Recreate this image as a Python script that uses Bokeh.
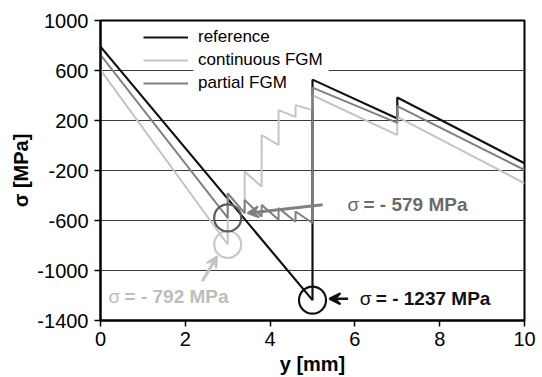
from bokeh.plotting import figure
from bokeh.models import Range1d, FixedTicker, Legend, LegendItem, Arrow, VeeHead, BoxAnnotation
from bokeh.core.properties import value
from bokeh.embed import file_html
from bokeh.resources import INLINE

# ---- data ----
ref_x = [0, 5, 5, 7, 7, 10]
ref_y = [790, -1237, 527, 216, 384, -142]

cont_x = [0, 3, 3, 3.4, 3.4, 3.8, 3.8, 4.2, 4.2, 4.6, 4.6, 5, 5, 7, 7, 10]
cont_y = [605, -792, -390, -541, -209, -328, 83, 4, 283, 229, 323, 283, 402, 83, 229, -302]

part_x = [0, 3, 3, 3.4, 3.4, 3.8, 3.8, 4.2, 4.2, 4.6, 4.6, 5, 5, 7, 7, 10]
part_y = [725, -579, -381, -541, -435, -568, -475, -594, -501, -610, -528, -620, 463, 181, 315, -196]

series_names = ["reference", "continuous FGM", "partial FGM"]
x_ticks = [0, 2, 4, 6, 8, 10]
y_ticks = [-1400, -1000, -600, -200, 200, 600, 1000]

# marked extreme values
peak_x = [5, 3, 3]
peak_y = [-1237, -792, -579]
peak_labels = ["= - 1237 MPa", "= - 792 MPa", "= - 579 MPa"]

FONT_NAME = "Liberation Sans"
FONT = value(FONT_NAME)
C_REF, C_CONT, C_PART = "#111111", "#c4c4c4", "#808080"
C_TXT = ["#111111", "#bdbdbd", "#6a6a6a"]
C_CIRC = ["#111111", "#c8c8c8", "#5a5a5a"]

p = figure(width=542, height=377, x_range=Range1d(0, 10), y_range=Range1d(-1400, 1000),
           output_backend="svg", toolbar_location=None,
           min_border_left=100, min_border_right=18, min_border_top=20, min_border_bottom=56)
p.background_fill_color = "white"
p.border_fill_color = "white"
p.outline_line_color = "black"
p.outline_line_width = 2

p.xaxis.ticker = FixedTicker(ticks=x_ticks)
p.yaxis.ticker = FixedTicker(ticks=y_ticks)
p.yaxis.major_label_overrides = {t: str(t) for t in y_ticks}
p.xaxis.major_label_overrides = {t: str(t) for t in x_ticks}
for ax in (p.xaxis, p.yaxis):
    ax.axis_line_width = 2
    ax.axis_line_color = "black"
    ax.major_tick_line_color = "black"
    ax.major_tick_line_width = 1.5
    ax.major_tick_in = 0
    ax.major_tick_out = 6
    ax.minor_tick_line_color = None
    ax.major_label_text_font = FONT_NAME
    ax.major_label_text_font_size = "20px"
    ax.major_label_text_color = "black"
    ax.axis_label_text_font = FONT_NAME
    ax.axis_label_text_font_size = "20px"
    ax.axis_label_text_font_style = "bold"
    ax.axis_label_text_color = "black"
p.xaxis.axis_label = "y [mm]"
p.yaxis.axis_label = "σ [MPa]"
p.xaxis.major_label_standoff = 5
p.xaxis.axis_label_standoff = 4
p.yaxis.major_label_standoff = 6
p.yaxis.axis_label_standoff = 2

p.xgrid.visible = False
p.ygrid.grid_line_color = "#3a3a3a"
p.ygrid.grid_line_width = 1

# white mask behind the legend labels (the gridline is interrupted there)
p.add_layout(BoxAnnotation(left=2.19, right=5.38, bottom=580, top=620,
                           fill_color="white", fill_alpha=1, line_color=None,
                           level="underlay"))

r_ref = p.line(ref_x, ref_y, line_color=C_REF, line_width=2.2)
r_cont = p.line(cont_x, cont_y, line_color=C_CONT, line_width=2)
r_part = p.line(part_x, part_y, line_color=C_PART, line_width=2)

# circles marking the extreme values
p.scatter(peak_x, peak_y, marker="circle", size=27, fill_color=None,
          line_color=C_CIRC, line_width=2.2)

# arrows (start -> end, in data units)
arrows = [
    (5.84, -1226, 5.40, -1226, C_REF, 2.5),
    (2.40, -1086, 2.75, -886, C_CONT, 3),
    (5.24, -474, 3.47, -541, C_PART, 3),
]
for xs, ys, xe, ye, c, w in arrows:
    p.add_layout(Arrow(end=VeeHead(size=11, line_color=c, fill_color=c, line_width=2),
                       x_start=xs, y_start=ys, x_end=xe, y_end=ye,
                       line_color=c, line_width=w))

# annotation texts
lab_x = [6.115, 0.19, 5.825]
lab_y = [-1227, -1211, -475]
p.text(lab_x, lab_y, text=["σ"] * 3, text_font=FONT, text_font_size="19px",
       text_color=C_TXT, text_align="left", text_baseline="middle")
p.text(lab_x, lab_y, text=peak_labels, text_font=FONT, text_font_size="19px",
       text_font_style="bold", text_color=C_TXT, text_align="left",
       text_baseline="middle", x_offset=16)

legend = Legend(items=[LegendItem(label=series_names[0], renderers=[r_ref]),
                       LegendItem(label=series_names[1], renderers=[r_cont]),
                       LegendItem(label=series_names[2], renderers=[r_part])],
                location=(41, 225), orientation="vertical")
legend.label_text_font = FONT_NAME
legend.label_text_font_size = "17px"
legend.label_text_color = "black"
legend.glyph_width = 45
legend.glyph_height = 20
legend.label_height = 20
legend.label_standoff = 10
legend.spacing = 3
legend.padding = 2
legend.margin = 0
legend.border_line_alpha = 0
legend.background_fill_alpha = 0
p.add_layout(legend)

open("out.html", "w").write(file_html(p, INLINE))
